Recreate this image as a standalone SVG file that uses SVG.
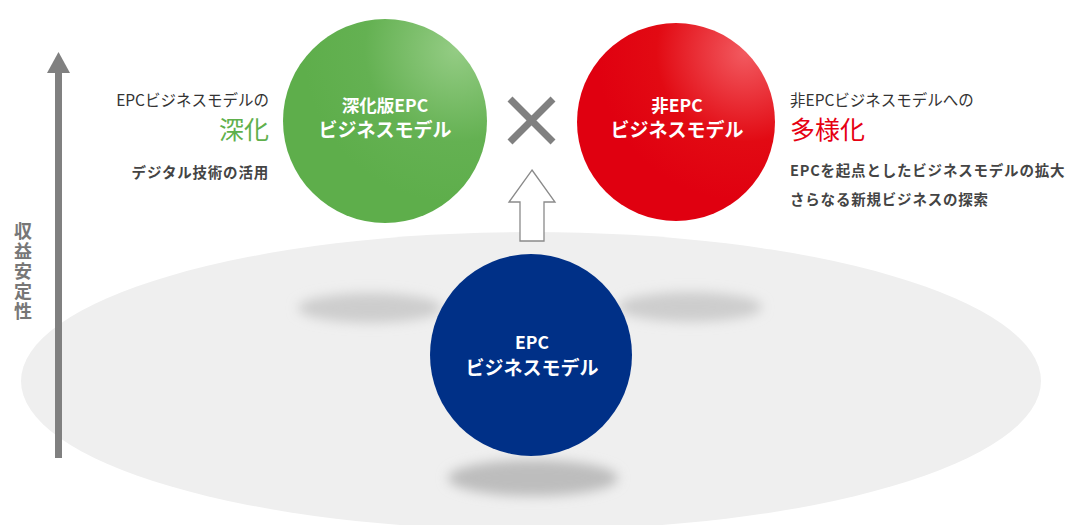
<svg xmlns="http://www.w3.org/2000/svg" width="1075" height="525" viewBox="0 0 1075 525">
<defs>
<radialGradient id="gGreen" cx="0.85" cy="0.15" r="0.75">
<stop offset="0" stop-color="#94cc84"/>
<stop offset="0.6" stop-color="#64b152"/>
<stop offset="1" stop-color="#5eae4b"/>
</radialGradient>
<radialGradient id="gRed" cx="0.85" cy="0.15" r="0.75">
<stop offset="0" stop-color="#f25a60"/>
<stop offset="0.6" stop-color="#e20a13"/>
<stop offset="1" stop-color="#e00010"/>
</radialGradient>
<filter id="blur" x="-50%" y="-100%" width="200%" height="300%">
<feGaussianBlur stdDeviation="6"/>
</filter>
<style>
text{font-family:"Noto Sans CJK JP","Noto Sans",sans-serif}
.w{fill:#fff;font-weight:bold;text-anchor:middle}
.d{fill:#333;font-size:15.5px}
.s{fill:#444;font-size:14.5px;font-weight:bold;letter-spacing:0.8px}
.sh{fill:#cdcdcd;filter:url(#blur)}
</style>
</defs>
<rect width="1075" height="525" fill="#fff"/>
<ellipse cx="531" cy="381" rx="510" ry="149" fill="#efefef"/>
<ellipse class="sh" cx="370" cy="308" rx="72" ry="15"/>
<ellipse class="sh" cx="690" cy="307" rx="72" ry="15"/>
<ellipse class="sh" cx="533" cy="478" rx="85" ry="18" style="fill:#bdbdbd"/>
<g id="axis">
<rect x="55" y="70" width="7" height="388" fill="#808080"/>
<polygon points="58.5,52 70,73 47,73" fill="#808080"/>
<text x="23" y="222" fill="#777" font-size="18" font-weight="bold" style="writing-mode:vertical-rl" letter-spacing="2">収益安定性</text>
</g>
<g id="connectors">
<polygon points="532,170 555,202 544,202 544,241 520,241 520,202 509,202" fill="#fff" stroke="#8a8a8a" stroke-width="1.3"/>
<path d="M510,99 L553,142 M553,99 L510,142" stroke="#808080" stroke-width="7"/>
</g>
<g id="node-green">
<circle cx="385" cy="121" r="102" fill="url(#gGreen)"/>
<text class="w" x="385" y="112" font-size="17.5">深化版EPC</text>
<text class="w" x="385" y="137" font-size="19">ビジネスモデル</text>
</g>
<g id="node-red">
<circle cx="676" cy="122" r="99" fill="url(#gRed)"/>
<text class="w" x="677" y="112" font-size="17.5">非EPC</text>
<text class="w" x="677" y="137" font-size="19">ビジネスモデル</text>
</g>
<g id="node-blue">
<circle cx="531" cy="355" r="101" fill="#003087"/>
<text class="w" x="532" y="349" font-size="17.5">EPC</text>
<text class="w" x="532" y="375" font-size="19">ビジネスモデル</text>
</g>
<g id="label-left" text-anchor="end">
<text class="d" x="269" y="105.5">EPCビジネスモデルの</text>
<text x="269" y="139" font-size="25" fill="#5fb04c">深化</text>
<text class="s" x="269" y="178">デジタル技術の活用</text>
</g>
<g id="label-right">
<text class="d" x="790" y="105.5">非EPCビジネスモデルへの</text>
<text x="790" y="139" font-size="25" fill="#e60012">多様化</text>
<text class="s" x="790" y="176">EPCを起点としたビジネスモデルの拡大</text>
<text class="s" x="790" y="205">さらなる新規ビジネスの探索</text>
</g>
</svg>
